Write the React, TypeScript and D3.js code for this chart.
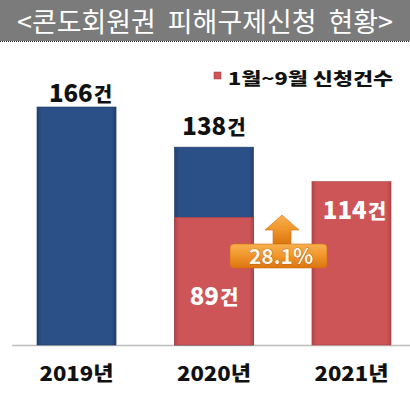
import React from 'react';
import * as d3 from 'd3';

const YEARS = ['2019년', '2020년', '2021년'];
const TOTAL = [166, 138, null];
const JAN_SEP = [null, 89, 114];
const GROWTH = '28.1%';
const TITLE = '<콘도회원권  피해구제신청  현황>';
const LEGEND = '1월~9월 신청건수';

const W = 410, H = 396;
const FONT = '"Noto Sans CJK KR", "Noto Sans", sans-serif';
const BLUE = '#2b5088';
const RED = '#cd5557';

export default function App() {
  const x = d3.scaleBand<string>().domain(YEARS).range([37, 391]).paddingInner(0.425).paddingOuter(0);
  const y = d3.scaleLinear().domain([0, 166]).range([345, 107]);
  const bw = x.bandwidth();

  const label = (v: number, cx: number, yy: number, fill: string) => (
    <text x={cx} y={yy} textAnchor="middle" fill={fill} fontFamily={FONT} fontWeight={900} fontSize={24}>
      {v}<tspan fontSize={20} dx={1}>건</tspan>
    </text>
  );

  // growth annotation sits between 2020 and 2021 bars
  const ax = 282, boxY = 244;

  return (
    <svg width={W} height={H} style={{ position: 'absolute', left: 0, top: 0, background: '#fff' }}>
      <defs>
        <linearGradient id="gBlue" x1="0" x2="1" y1="0" y2="0">
          <stop offset="0" stopColor="#22406f" />
          <stop offset="0.06" stopColor={BLUE} />
          <stop offset="0.94" stopColor={BLUE} />
          <stop offset="1" stopColor="#22406f" />
        </linearGradient>
        <linearGradient id="gRed" x1="0" x2="1" y1="0" y2="0">
          <stop offset="0" stopColor="#b64446" />
          <stop offset="0.06" stopColor={RED} />
          <stop offset="0.94" stopColor={RED} />
          <stop offset="1" stopColor="#b64446" />
        </linearGradient>
        <linearGradient id="gOrange" x1="0" x2="0" y1="0" y2="1">
          <stop offset="0" stopColor="#f8b050" />
          <stop offset="0.5" stopColor="#f0952a" />
          <stop offset="1" stopColor="#dc7410" />
        </linearGradient>
      </defs>

      {/* title bar */}
      <rect x={0} y={0} width={W} height={41} fill="#7b7b7b" />
      <line x1={0} x2={W} y1={41.5} y2={41.5} stroke="#222" strokeDasharray="1,1" />
      <text x={W / 2} y={32} textAnchor="middle" fill="#fff" fontFamily={FONT} fontSize={27}
        textLength={376} lengthAdjust="spacingAndGlyphs" style={{ whiteSpace: 'pre' }}>{TITLE}</text>

      {/* legend */}
      <rect x={214} y={72} width={7} height={7} fill={RED} stroke="#a33" strokeWidth={0.5} />
      <text x={228} y={85} fill="#111" fontFamily={FONT} fontWeight={900} fontSize={16.5}
        textLength={165} lengthAdjust="spacingAndGlyphs">{LEGEND}</text>

      {/* baseline */}
      <line x1={12} x2={W} y1={y(0) + 0.5} y2={y(0) + 0.5} stroke="#bdbdbd" strokeWidth={1.5} />

      {YEARS.map((yr, i) => {
        const bx = x(yr)!;
        const t = TOTAL[i], p = JAN_SEP[i];
        return (
          <g key={yr}>
            {t != null && (
              <rect x={bx} y={y(t)} width={bw} height={y(0) - y(t)} fill="url(#gBlue)" stroke="#203a63" strokeWidth={0.6} />
            )}
            {p != null && (
              <rect x={bx} y={y(p)} width={bw} height={y(0) - y(p)} fill="url(#gRed)" stroke="#b04244" strokeWidth={0.6} />
            )}
            <text x={bx + bw / 2} y={381} textAnchor="middle" fill="#111" fontFamily={FONT} fontWeight={900} fontSize={20}
              textLength={74} lengthAdjust="spacingAndGlyphs">{yr}</text>
          </g>
        );
      })}

      {label(TOTAL[0]!, x(YEARS[0])! + bw / 2 + 4, y(TOTAL[0]!) - 5, '#111')}
      {label(TOTAL[1]!, x(YEARS[1])! + bw / 2, y(TOTAL[1]!) - 12, '#111')}
      {label(JAN_SEP[1]!, x(YEARS[1])! + bw / 2, 305, '#fff')}
      {label(JAN_SEP[2]!, x(YEARS[2])! + bw / 2 + 3, 219, '#fff')}

      {/* growth arrow */}
      <path
        d={`M${ax - 9},${boxY} L${ax - 9},${boxY - 14} L${ax - 17},${boxY - 14} L${ax},${boxY - 29} L${ax + 17},${boxY - 14} L${ax + 9},${boxY - 14} L${ax + 9},${boxY} Z`}
        fill="url(#gOrange)" stroke="#d27010" strokeWidth={0.6} />
      <rect x={230} y={boxY} width={97} height={24} rx={4} fill="url(#gOrange)" stroke="#d27010" strokeWidth={0.6} />
      <text x={281} y={boxY + 19.5} textAnchor="middle" fill="#fff6e6" stroke="#8a4a10" strokeWidth={0.6}
        paintOrder="stroke" fontFamily={FONT} fontWeight={700} fontSize={21}>{GROWTH}</text>
    </svg>
  );
}
